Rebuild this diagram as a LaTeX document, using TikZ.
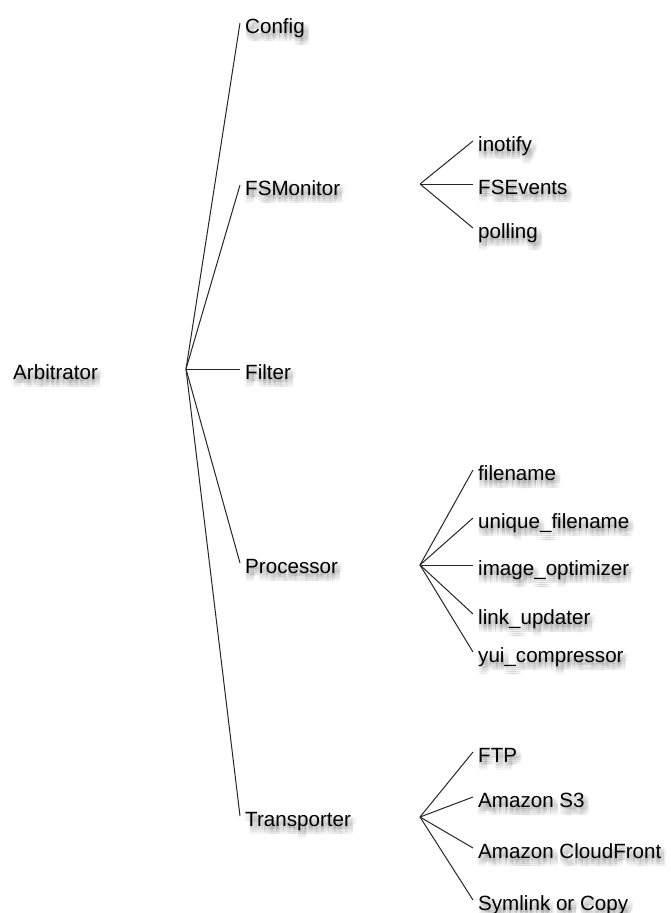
\documentclass[tikz,border=0pt]{standalone}
\usepackage{fontspec}
\setmainfont{Liberation Sans}
\usetikzlibrary{calc}

\tikzset{
  item/.style={anchor=west, inner xsep=5pt, inner ysep=0pt, text height=20pt, text depth=0pt,
    font=\fontsize{20.6}{24}\selectfont},
  itemshadow/.style={item, text=black, text opacity=0.045},
  branch/.style={line width=1pt, black!85},
}

\begin{document}
\begin{tikzpicture}[x=1pt,y=-1pt]
    \useasboundingbox (0,0) rectangle (670,913);
    % label with a soft drop shadow: name, position, text
    \newcommand{\lbl}[3]{%
      \foreach \dx in {-0.5,1.5,3.5,5.5}
        \foreach \dy in {2.5,4.5,6.5,8.5}
          \node[itemshadow] at ($#2+(\dx,\dy)$) {#3};
      \node[item] (#1) at #2 {#3};
    };

    % root
    \lbl{arb}{(8,369)}{Arbitrator};
    \path coordinate (arbj) at (186,369);

    % first level
    \lbl{config}{(240,23)}{Config};
    \lbl{fsmon}{(240,185)}{FSMonitor};
    \lbl{filter}{(240,369)}{Filter};
    \lbl{proc}{(240,563)}{Processor};
    \lbl{trans}{(240,816)}{Transporter};
    \foreach \n in {config,fsmon,filter,proc,trans}
      \draw[branch] (arbj) -- (\n.west);

    % FSMonitor backends
    \path coordinate (fsmonj) at (420,184);
    \lbl{inotify}{(473,141)}{inotify};
    \lbl{fsevents}{(473,184)}{FSEvents};
    \lbl{polling}{(473,228)}{polling};
    \foreach \n in {inotify,fsevents,polling}
      \draw[branch] (fsmonj) -- (\n.west);

    % processors
    \path coordinate (procj) at (420,565);
    \lbl{fname}{(473,470)}{filename};
    \lbl{ufname}{(473,518)}{unique\_filename};
    \lbl{imgopt}{(473,565)}{image\_optimizer};
    \lbl{linkup}{(473,614)}{link\_updater};
    \lbl{yui}{(473,652)}{yui\_compressor};
    \foreach \n in {fname,ufname,imgopt,linkup,yui}
      \draw[branch] (procj) -- (\n.west);

    % transporters
    \path coordinate (transj) at (420,817);
    \lbl{ftp}{(473,752)}{FTP};
    \lbl{sthree}{(473,797)}{Amazon S3};
    \lbl{cfront}{(473,848)}{Amazon CloudFront};
    \lbl{symlink}{(473,900)}{Symlink or Copy};
    \foreach \n in {ftp,sthree,cfront,symlink}
      \draw[branch] (transj) -- (\n.west);
\end{tikzpicture}
\end{document}
